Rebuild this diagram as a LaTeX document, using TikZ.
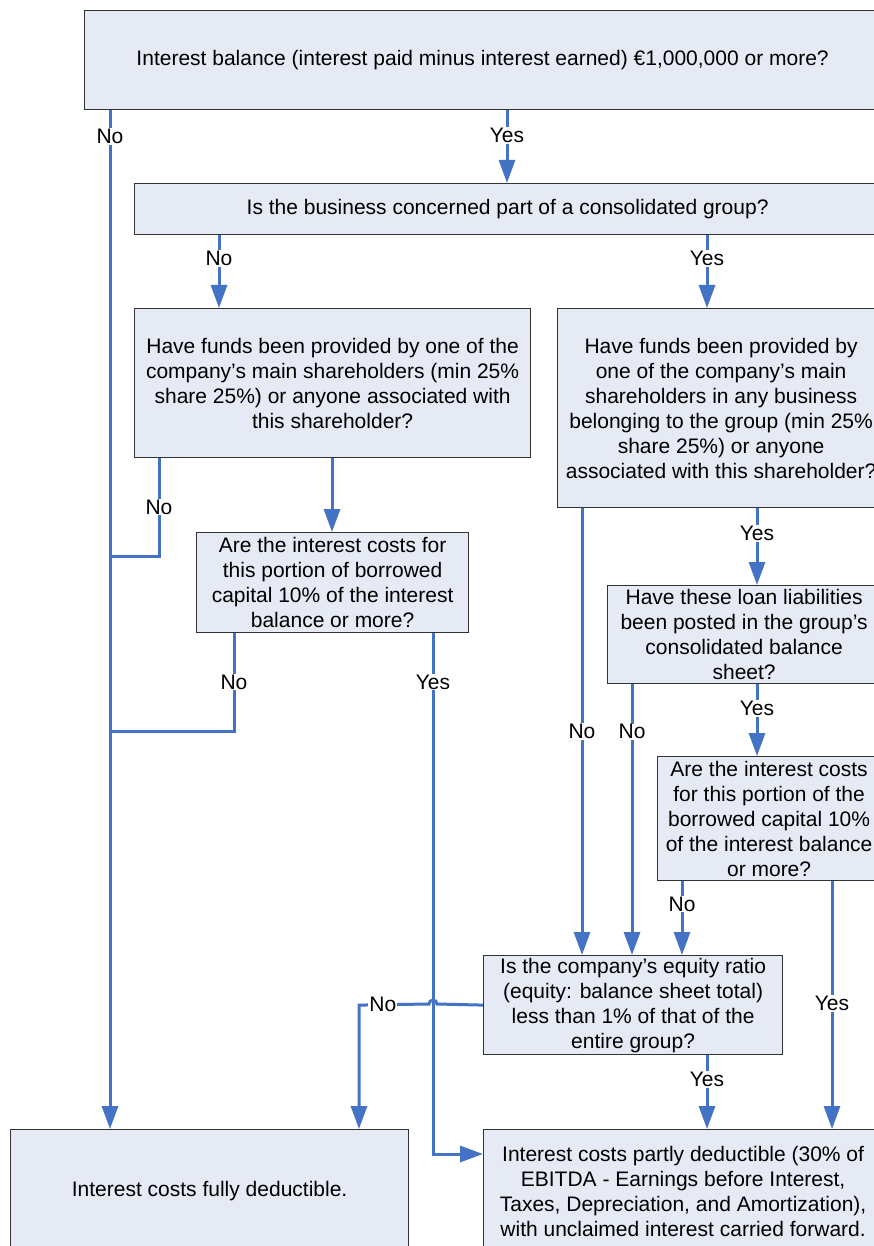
\documentclass[tikz,border=0pt]{standalone}
\usepackage{fontspec}
\setmainfont{Liberation Sans}
\usetikzlibrary{arrows.meta}
\definecolor{flowblue}{RGB}{68,114,196}
\definecolor{boxfill}{RGB}{230,234,245}
\tikzset{
  qbox/.style={draw=black!80, line width=1.2pt, fill=boxfill, anchor=north west,
    inner sep=0pt, align=center, font=\fontsize{21}{25}\selectfont},
  flow/.style={draw=flowblue, line width=3pt},
  lbl/.style={fill=white, inner sep=1pt, font=\fontsize{21}{25}\selectfont}
}
\begin{document}
\begin{tikzpicture}[x=1pt,y=-1pt,
% blue connector heads
>={Triangle[length=23pt,width=16pt]}]

\fill[white] (0,0) rectangle (874,1246);
\path[use as bounding box] (0,0) rectangle (874,1246);
\clip (0,0) rectangle (874,1246);

\node[qbox, minimum width=796pt, minimum height=99pt] (balance) at (84,10)
  {Interest balance (interest paid minus interest earned) €1,000,000 or more?};
\node[qbox, minimum width=746pt, minimum height=51pt] (group) at (134,183)
  {Is the business concerned part of a consolidated group?};
\node[qbox, minimum width=396pt, minimum height=149pt] (fundsA) at (134,308)
  {Have funds been provided by one of the\\company’s main shareholders (min 25\%\\share 25\%) or anyone associated with\\this shareholder?};
\node[qbox, minimum width=327pt, minimum height=199pt] (fundsB) at (557,308)
  {Have funds been provided by\\one of the company’s main\\shareholders in any business\\belonging to the group (min 25\%\\share 25\%) or anyone\\associated with this shareholder?};
\node[qbox, minimum width=272pt, minimum height=100pt] (shareA) at (196,532)
  {Are the interest costs for\\this portion of borrowed\\capital 10\% of the interest\\balance or more?};
\node[qbox, minimum width=273pt, minimum height=98pt] (posted) at (607,585)
  {Have these loan liabilities\\been posted in the group’s\\consolidated balance\\sheet?};
\node[qbox, minimum width=223pt, minimum height=124pt] (shareB) at (657,756)
  {Are the interest costs\\for this portion of the\\borrowed capital 10\%\\of the interest balance\\or more?};
\node[qbox, minimum width=299pt, minimum height=99pt] (equity) at (483,955)
  {Is the company’s equity ratio\\(equity: balance sheet total)\\less than 1\% of that of the\\entire group?};
\node[qbox, minimum width=398pt, minimum height=123pt] (full) at (10,1129)
  {Interest costs fully deductible.};
\node[qbox, minimum width=399pt, minimum height=123pt] (partly) at (483,1129)
  {Interest costs partly deductible (30\% of\\EBITDA - Earnings before Interest,\\Taxes, Depreciation, and Amortization),\\with unclaimed interest carried forward.};

\foreach \name/\x in {trunk/110, yA/507, nA/219, yB/707, nC/159, mC/332, nE/234,
    yE/433, nD/582, yD/757, nF/632, nG/682, yG/832, yI/707, nI/359}
  \coordinate (\name) at (\x,0);
\coordinate (j1) at (110,556);
\coordinate (j2) at (110,731);
\coordinate (yesE) at (433,1154);
\coordinate (hop) at (437,1004);

\draw[flow,->] (balance.south -| trunk) -- node[lbl,pos=0.0255]{No} (full.north -| trunk);
\draw[flow,->] (balance.south -| yA) -- node[lbl,pos=0.35]{Yes} (group.north -| yA);
\draw[flow,->] (group.south -| nA) -- node[lbl,pos=0.32]{No} (fundsA.north -| nA);
\draw[flow,->] (group.south -| yB) -- node[lbl,pos=0.32]{Yes} (fundsB.north -| yB);
\draw[flow,->] (fundsA.south -| mC) -- (shareA.north -| mC);
\draw[flow] (fundsA.south -| nC) -- node[lbl]{No} (nC |- j1) -- (j1);
\draw[flow] (shareA.south -| nE) -- node[lbl]{No} (nE |- j2) -- (j2);
\draw[flow,->] (shareA.south -| yE) -- node[lbl,pos=0.094]{Yes} (yE |- yesE) -- (partly.west |- yesE);
\draw[flow,->] (fundsB.south -| yD) -- node[lbl,pos=0.33]{Yes} (posted.north -| yD);
\draw[flow,->] (posted.south -| yD) -- node[lbl,pos=0.34]{Yes} (shareB.north -| yD);
\draw[flow,->] (fundsB.south -| nD) -- node[lbl]{No} (equity.north -| nD);
\draw[flow,->] (posted.south -| nF) -- node[lbl,pos=0.176]{No} (equity.north -| nF);
\draw[flow,->] (shareB.south -| nG) -- node[lbl,pos=0.31]{No} (equity.north -| nG);
\draw[flow,->] (shareB.south -| yG) -- node[lbl,pos=0.494]{Yes} (partly.north -| yG);
\draw[flow,->] (equity.south -| yI) -- node[lbl,pos=0.33]{Yes} (partly.north -| yI);
\draw[flow,->] (equity.west) -- (hop) arc[start angle=0,end angle=180,radius=4pt]
  -- node[lbl,pos=0.66]{No} (equity.west -| nI) -- (full.north -| nI);
\end{tikzpicture}
\end{document}
